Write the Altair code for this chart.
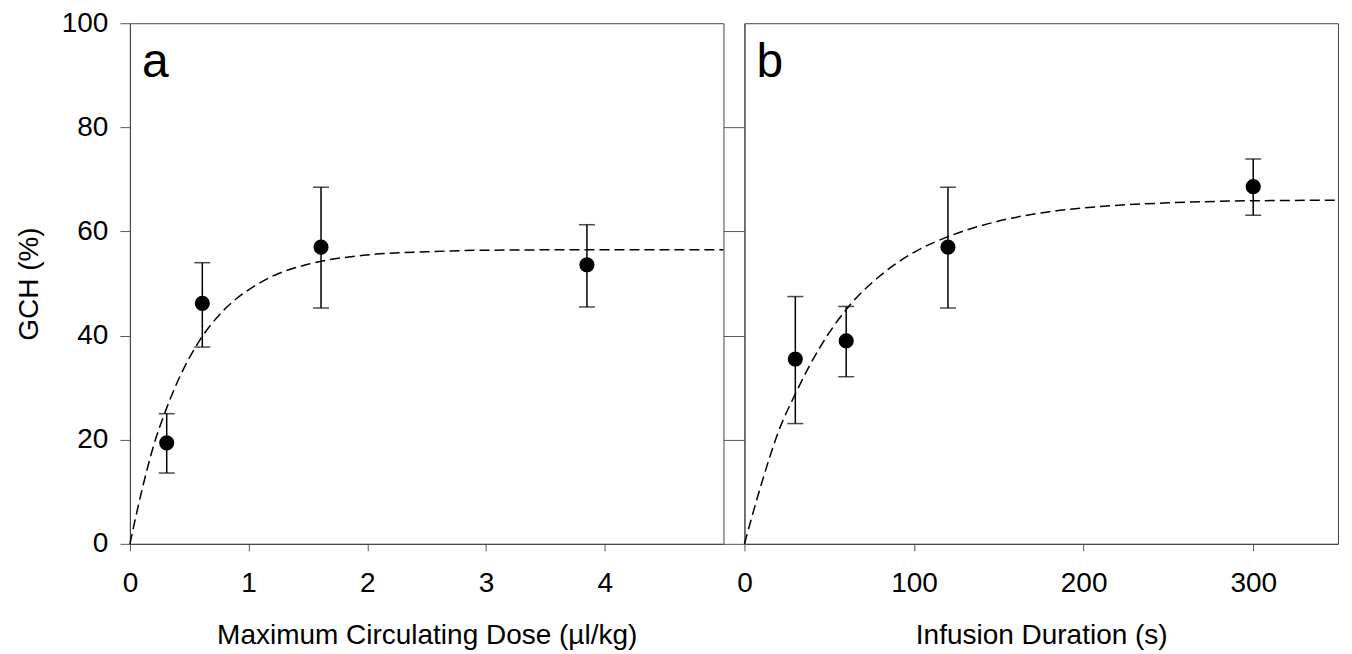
import altair as alt
import pandas as pd

# ---- Panel a: maximum circulating dose ----
dose = [0.31, 0.61, 1.61, 3.85]
gch_a = [19.4, 46.2, 57.0, 53.6]
gch_a_lo = [13.6, 37.8, 45.3, 45.5]
gch_a_hi = [25.0, 54.0, 68.5, 61.3]

fit_a_x = [0, 0.1, 0.2, 0.3, 0.4, 0.5, 0.6, 0.8, 1.0, 1.2, 1.5, 2.0, 2.5, 3.0, 4.0, 5.0]
fit_a_y = [0, 10.2, 18.9, 25.5, 31.1, 35.7, 39.5, 45.1, 48.8, 51.4, 53.7, 55.5, 56.1, 56.4, 56.5, 56.5]

# ---- Panel b: infusion duration ----
duration = [30, 60, 120, 300]
gch_b = [35.5, 39.0, 57.0, 68.6]
gch_b_lo = [23.1, 32.1, 45.3, 63.1]
gch_b_hi = [47.5, 45.6, 68.5, 73.9]

fit_b_x = [0, 10, 20, 30, 45, 60, 80, 100, 120, 150, 180, 210, 250, 300, 350]
fit_b_y = [0, 11.5, 21.5, 28.8, 38.0, 45.0, 51.5, 56.0, 59.0, 62.0, 63.8, 64.8, 65.5, 65.9, 66.0]

y_ticks = [0, 20, 40, 60, 80, 100]
x_ticks_a = [0, 1, 2, 3, 4]
x_ticks_b = [0, 100, 200, 300]

FONT = "Liberation Sans"


def panel(px, py, plo, phi, fx, fy, xdomain, xvalues, xtitle, letter, first):
    pts = pd.DataFrame({"x": px, "y": py, "lo": plo, "hi": phi})
    fit = pd.DataFrame({"x": fx, "y": fy})
    lab = pd.DataFrame({"t": [letter]})

    xscale = alt.Scale(domain=xdomain, nice=False, zero=False)
    yscale = alt.Scale(domain=[0, 100], nice=False)
    xaxis = alt.Axis(title=xtitle, values=xvalues, tickSize=7, labelPadding=19,
                     titlePadding=24, format="d", grid=False, labelFlush=False)
    if first:
        yaxis = alt.Axis(title="GCH (%)", values=y_ticks, tickSize=10, labelPadding=12,
                         titlePadding=18, format="d", grid=False, labelFlush=False)
    else:
        yaxis = alt.Axis(title=None, labels=False, values=[0, 20, 40, 60, 80],
                         tickSize=21, grid=False)

    line = alt.Chart(fit).mark_line(
        color="black", strokeWidth=1.5, strokeDash=[10, 5], interpolate="monotone"
    ).encode(
        x=alt.X("x:Q", scale=xscale, axis=xaxis),
        y=alt.Y("y:Q", scale=yscale, axis=yaxis),
    )
    err = alt.Chart(pts).mark_errorbar(
        ticks=True, size=16, thickness=1.5, color="black"
    ).encode(
        x=alt.X("x:Q", scale=xscale, axis=xaxis),
        y=alt.Y("lo:Q", scale=yscale, axis=yaxis),
        y2="hi:Q",
    )
    dots = alt.Chart(pts).mark_circle(size=230, color="black", opacity=1).encode(
        x=alt.X("x:Q", scale=xscale, axis=xaxis),
        y=alt.Y("y:Q", scale=yscale, axis=yaxis),
    )
    txt = alt.Chart(lab).mark_text(
        fontSize=48, font=FONT, align="left", baseline="alphabetic", color="black"
    ).encode(text="t:N", x=alt.value(12), y=alt.value(54))
    return alt.layer(line, err, dots, txt).properties(width=594, height=521)


pa = panel(dose, gch_a, gch_a_lo, gch_a_hi, fit_a_x, fit_a_y, [0, 5], x_ticks_a,
           "Maximum Circulating Dose (µl/kg)", "a", True)
pb = panel(duration, gch_b, gch_b_lo, gch_b_hi, fit_b_x, fit_b_y, [0, 350], x_ticks_b,
           "Infusion Duration (s)", "b", False)

chart = alt.hconcat(pa, pb, spacing=21, bounds="flush").properties(
    padding={"left": 6, "top": 0, "right": 2, "bottom": 0}
).configure_view(
    stroke="#444444", strokeWidth=1
).configure_axis(
    labelFont=FONT, titleFont=FONT, labelFontSize=28, titleFontSize=28,
    labelColor="black", titleColor="black", titleFontWeight="normal",
    domainColor="#444444", tickColor="#555555", domainWidth=1, tickWidth=1
)

chart.save("out.html", embed_options={"renderer": "svg", "actions": False})
